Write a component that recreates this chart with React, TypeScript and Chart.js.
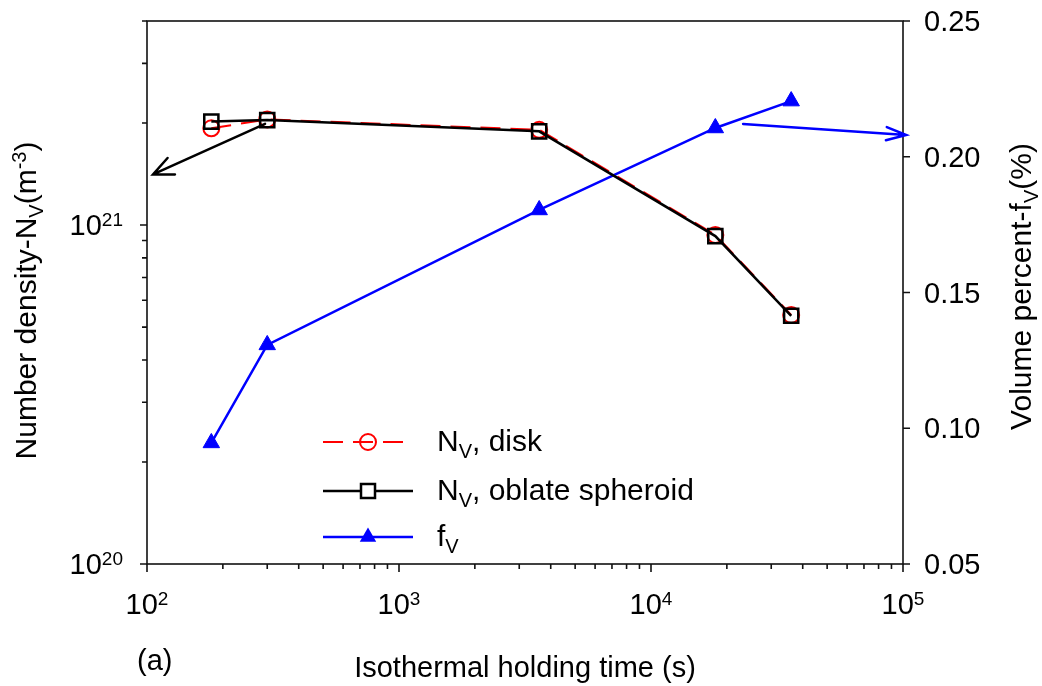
import React, { useEffect, useRef } from 'react';
import { Chart, registerables } from 'chart.js';

Chart.register(...registerables);

// ---------- data ----------
const times = [180, 300, 3600, 18000, 36000];
const nvDisk = [1.93e21, 2.05e21, 1.91e21, 9.35e20, 5.43e20];
const nvOblate = [2.02e21, 2.04e21, 1.89e21, 9.28e20, 5.4e20];
const fv = [0.0946, 0.1307, 0.1804, 0.2106, 0.2205];

const seriesNames = ['disk', 'oblate spheroid'];

// ---------- ticks ----------
const xMajorTicks = [1e2, 1e3, 1e4, 1e5];
const xMajorExp = ['2', '3', '4', '5'];
const xMinorTicks = [
  200, 300, 400, 500, 600, 700, 800, 900,
  2000, 3000, 4000, 5000, 6000, 7000, 8000, 9000,
  20000, 30000, 40000, 50000, 60000, 70000, 80000, 90000,
];
const yLeftMajorTicks = [1e20, 1e21];
const yLeftMajorExp = ['20', '21'];
const yLeftMinorTicks = [2e20, 3e20, 4e20, 5e20, 6e20, 7e20, 8e20, 9e20, 2e21, 3e21, 4e21];
const yRightTicks = [0.05, 0.1, 0.15, 0.2, 0.25];
const yRightLabels = ['0.05', '0.10', '0.15', '0.20', '0.25'];

// arrows (data coordinates): [x, y]
const arrowNvFrom = [294, 1.99e21];
const arrowNvTo = [105.6, 1.41e21];
const arrowFvFrom = [23200, 0.2121];
const arrowFvTo = [103000, 0.208];

const FAM = '"Liberation Sans", Arial, Helvetica, sans-serif';
const f = (px: number) => `${px}px ${FAM}`;

type Seg = { t: string; k?: 'sub' | 'sup' };

function drawRich(
  ctx: CanvasRenderingContext2D,
  segs: Seg[],
  x: number,
  y: number,
  o: { align: 'left' | 'center' | 'right'; rot?: number; main: number; small: number; subDy: number; supDy: number; color?: string }
) {
  ctx.save();
  ctx.translate(x, y);
  if (o.rot) ctx.rotate(o.rot);
  ctx.fillStyle = o.color || '#000';
  ctx.textBaseline = 'alphabetic';
  ctx.textAlign = 'left';
  let w = 0;
  for (const s of segs) {
    ctx.font = f(s.k ? o.small : o.main);
    w += ctx.measureText(s.t).width;
  }
  let cx = o.align === 'center' ? -w / 2 : o.align === 'right' ? -w : 0;
  for (const s of segs) {
    ctx.font = f(s.k ? o.small : o.main);
    const dy = s.k === 'sub' ? o.subDy : s.k === 'sup' ? o.supDy : 0;
    ctx.fillText(s.t, cx, dy);
    cx += ctx.measureText(s.t).width;
  }
  ctx.restore();
}

function drawArrow(ctx: CanvasRenderingContext2D, x1: number, y1: number, x2: number, y2: number, color: string, lw: number, hl: number, ha: number) {
  ctx.save();
  ctx.strokeStyle = color;
  ctx.lineWidth = lw;
  ctx.lineCap = 'round';
  ctx.lineJoin = 'miter';
  const a = Math.atan2(y2 - y1, x2 - x1);
  ctx.beginPath();
  ctx.moveTo(x1, y1);
  ctx.lineTo(x2, y2);
  ctx.moveTo(x2 - hl * Math.cos(a - ha), y2 - hl * Math.sin(a - ha));
  ctx.lineTo(x2, y2);
  ctx.lineTo(x2 - hl * Math.cos(a + ha), y2 - hl * Math.sin(a + ha));
  ctx.stroke();
  ctx.restore();
}

const decorPlugin = {
  id: 'decor',
  beforeDatasetsDraw(chart: any) {
    const ctx: CanvasRenderingContext2D = chart.ctx;
    const { left, right, top, bottom } = chart.chartArea;
    const xs = chart.scales.x;
    const yl = chart.scales.y;
    const yr = chart.scales.y1;
    ctx.save();
    ctx.strokeStyle = '#111';
    ctx.lineWidth = 1.6;
    ctx.strokeRect(left, top, right - left, bottom - top);
    ctx.beginPath();
    for (const v of xMajorTicks) {
      const p = xs.getPixelForValue(v);
      ctx.moveTo(p, bottom);
      ctx.lineTo(p, bottom + 8);
    }
    for (const v of xMinorTicks) {
      const p = xs.getPixelForValue(v);
      ctx.moveTo(p, bottom);
      ctx.lineTo(p, bottom + 5);
    }
    for (const v of yLeftMajorTicks) {
      const p = yl.getPixelForValue(v);
      ctx.moveTo(left - 7, p);
      ctx.lineTo(left, p);
    }
    for (const v of yLeftMinorTicks) {
      const p = yl.getPixelForValue(v);
      ctx.moveTo(left - 5, p);
      ctx.lineTo(left, p);
    }
    for (const v of yRightTicks) {
      const p = yr.getPixelForValue(v);
      ctx.moveTo(right, p);
      ctx.lineTo(right + 7, p);
    }
    ctx.stroke();
    ctx.restore();

    const tk = { main: 29, small: 19, subDy: 7, supDy: -9 };
    xMajorTicks.forEach((v, i) => {
      const p = xs.getPixelForValue(v);
      drawRich(ctx, [{ t: '10' }, { t: xMajorExp[i], k: 'sup' }], p, bottom + 50, { align: 'center', ...tk });
    });
    yLeftMajorTicks.forEach((v, i) => {
      const p = yl.getPixelForValue(v);
      drawRich(ctx, [{ t: '10' }, { t: yLeftMajorExp[i], k: 'sup' }], left - 24, p + 10, { align: 'right', ...tk });
    });
    yRightTicks.forEach((v, i) => {
      const p = yr.getPixelForValue(v);
      drawRich(ctx, [{ t: yRightLabels[i] }], right + 21, p + 10, { align: 'left', ...tk });
    });

    const tt = { main: 29, small: 19, subDy: 7, supDy: -10 };
    drawRich(ctx, [{ t: 'Isothermal holding time (s)' }], (left + right) / 2, bottom + 113, { align: 'center', ...tt });
    drawRich(
      ctx,
      [{ t: 'Number density-N' }, { t: 'V', k: 'sub' }, { t: '(m' }, { t: '-3', k: 'sup' }, { t: ')' }],
      36,
      (top + bottom) / 2 + 8,
      { align: 'center', rot: -Math.PI / 2, ...tt, main: 30, small: 20 }
    );
    drawRich(
      ctx,
      [{ t: 'Volume percent-f' }, { t: 'V', k: 'sub' }, { t: '(%)' }],
      1031,
      (top + bottom) / 2 - 6,
      { align: 'center', rot: -Math.PI / 2, ...tt, main: 30, small: 20 }
    );
    drawRich(ctx, [{ t: '(a)' }], left - 10, bottom + 106, { align: 'left', ...tt });
  },
  afterDraw(chart: any) {
    const ctx: CanvasRenderingContext2D = chart.ctx;
    const xs = chart.scales.x;
    const yl = chart.scales.y;
    const yr = chart.scales.y1;
    drawArrow(
      ctx,
      xs.getPixelForValue(arrowNvFrom[0]), yl.getPixelForValue(arrowNvFrom[1]),
      xs.getPixelForValue(arrowNvTo[0]), yl.getPixelForValue(arrowNvTo[1]),
      '#000', 2.5, 22, 0.42
    );
    drawArrow(
      ctx,
      xs.getPixelForValue(arrowFvFrom[0]), yr.getPixelForValue(arrowFvFrom[1]),
      xs.getPixelForValue(arrowFvTo[0]), yr.getPixelForValue(arrowFvTo[1]),
      '#0000ff', 2.5, 21, 0.32
    );

    // legend
    const lx0 = 323, lx1 = 413, mx = 368, tx = 437;
    const rows = [442, 491, 537];
    const leg = { main: 30, small: 20, subDy: 7, supDy: -9 };
    ctx.save();
    // disk
    ctx.strokeStyle = '#ff0000';
    ctx.lineWidth = 2;
    ctx.setLineDash([20, 10]);
    ctx.beginPath();
    ctx.moveTo(lx0, rows[0]);
    ctx.lineTo(lx1, rows[0]);
    ctx.stroke();
    ctx.setLineDash([]);
    ctx.beginPath();
    ctx.arc(mx, rows[0], 8, 0, Math.PI * 2);
    ctx.stroke();
    // oblate
    ctx.strokeStyle = '#000';
    ctx.lineWidth = 2.5;
    ctx.beginPath();
    ctx.moveTo(lx0, rows[1]);
    ctx.lineTo(lx1, rows[1]);
    ctx.stroke();
    ctx.fillStyle = '#fff';
    ctx.fillRect(mx - 7, rows[1] - 7, 14, 14);
    ctx.strokeRect(mx - 7, rows[1] - 7, 14, 14);
    // fv
    ctx.strokeStyle = '#0000ff';
    ctx.fillStyle = '#0000ff';
    ctx.beginPath();
    ctx.moveTo(lx0, rows[2]);
    ctx.lineTo(lx1, rows[2]);
    ctx.stroke();
    const r = 9.5;
    ctx.beginPath();
    ctx.moveTo(mx, rows[2] - r);
    ctx.lineTo(mx + r * Math.sin(Math.PI / 3), rows[2] + r / 2);
    ctx.lineTo(mx - r * Math.sin(Math.PI / 3), rows[2] + r / 2);
    ctx.closePath();
    ctx.fill();
    ctx.restore();

    drawRich(ctx, [{ t: 'N' }, { t: 'V', k: 'sub' }, { t: ', ' + seriesNames[0] }], tx, rows[0] + 9, { align: 'left', ...leg });
    drawRich(ctx, [{ t: 'N' }, { t: 'V', k: 'sub' }, { t: ', ' + seriesNames[1] }], tx, rows[1] + 9, { align: 'left', ...leg });
    drawRich(ctx, [{ t: 'f' }, { t: 'V', k: 'sub' }], tx, rows[2] + 9, { align: 'left', ...leg });
  },
};

export default function App() {
  const ref = useRef<HTMLCanvasElement | null>(null);
  useEffect(() => {
    if (!ref.current) return;
    const chart = new Chart(ref.current, {
      type: 'line',
      data: {
        datasets: [
          {
            label: 'Nv, oblate spheroid',
            data: times.map((t, i) => ({ x: t, y: nvOblate[i] })),
            yAxisID: 'y',
            borderColor: '#000',
            borderWidth: 2.5,
            pointStyle: 'rect',
            pointRadius: 10,
            pointBorderWidth: 2.5,
            pointBorderColor: '#000',
            pointBackgroundColor: 'rgba(0,0,0,0)',
            tension: 0,
            order: 0,
          },
          {
            label: 'Nv, disk',
            data: times.map((t, i) => ({ x: t, y: nvDisk[i] })),
            yAxisID: 'y',
            borderColor: '#ff0000',
            borderWidth: 2,
            borderDash: [20, 10],
            pointStyle: 'circle',
            pointRadius: 8,
            pointBorderWidth: 2,
            pointBorderColor: '#ff0000',
            pointBackgroundColor: 'rgba(0,0,0,0)',
            tension: 0,
            order: 1,
          },
          {
            label: 'fv',
            data: times.map((t, i) => ({ x: t, y: fv[i] })),
            yAxisID: 'y1',
            borderColor: '#0000ff',
            borderWidth: 2.5,
            pointStyle: 'triangle',
            pointRadius: 9.5,
            pointBorderWidth: 1,
            pointBorderColor: '#0000ff',
            pointBackgroundColor: '#0000ff',
            tension: 0,
            order: 2,
          },
        ],
      },
      options: {
        responsive: false,
        animation: false,
        devicePixelRatio: 1,
        layout: { padding: { left: 147, right: 139, top: 21, bottom: 122 } },
        plugins: { legend: { display: false }, tooltip: { enabled: false } },
        events: [],
        scales: {
          x: { type: 'logarithmic', min: 100, max: 100000, display: false },
          y: { type: 'logarithmic', position: 'left', min: 1e20, max: 4e21, display: false },
          y1: { type: 'linear', position: 'right', min: 0.05, max: 0.25, display: false },
        },
      },
      plugins: [decorPlugin],
    });
    return () => chart.destroy();
  }, []);
  return (
    <div style={{ position: 'fixed', left: 0, top: 0, width: 1042, height: 686, background: '#fff' }}>
      <canvas ref={ref} width={1042} height={686} style={{ display: 'block' }} />
    </div>
  );
}
